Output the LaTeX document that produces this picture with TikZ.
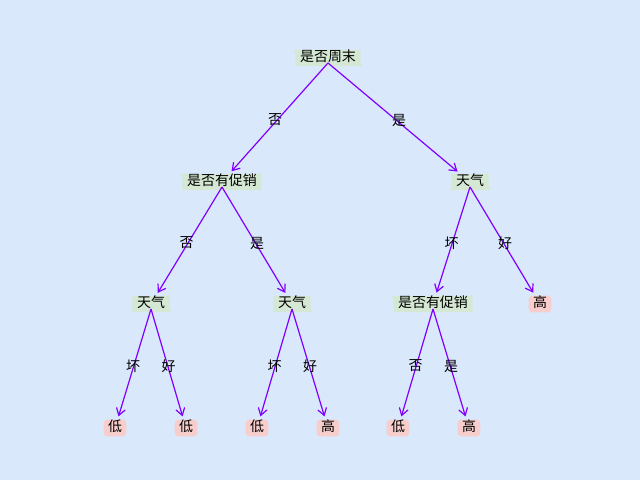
\documentclass[tikz,border=0pt]{standalone}
\usepackage{fontspec}
\setmainfont{Noto Sans CJK SC}
\usepackage{xcolor}
\usetikzlibrary{arrows.meta,calc,decorations.pathmorphing}
\definecolor{bgblue}{HTML}{DAE8FC}
\definecolor{decgreen}{HTML}{D5E8D4}
\definecolor{leafpink}{HTML}{F8CECC}
\definecolor{arrpurple}{HTML}{7F00FF}

\begin{document}
\begin{tikzpicture}[
x=1bp,y=-1bp,
font=\fontsize{14}{14}\selectfont,
decision/.style={
  fill=decgreen,
  inner xsep=5bp,
  inner ysep=3.3bp,
  text height=0.85em,
  text depth=0.15em,
  decorate,
  decoration={saw,segment length=2.5bp,amplitude=0.6bp}
},
leafbox/.style={
  fill=leafpink,
  rounded corners=4bp,
  inner xsep=4.5bp,
  inner ysep=3.5bp,
  text height=0.85em,
  text depth=0.15em
},
branch/.style={
  draw=arrpurple,
  line width=1.2bp,
  -{Straight Barb[length=7bp,width=9bp]},
  shorten >=3bp
},
lab/.style={inner sep=0pt}
]
\fill[bgblue] (0,0) rectangle (640,480);

% inner nodes
\node[decision] (weekend) at (328,58) {是否周末};
\node[decision] (promoL) at (222,182) {是否有促销};
\node[decision] (weatherR) at (470,182) {天气};
\node[decision] (weatherA) at (151,304) {天气};
\node[decision] (weatherB) at (292,304) {天气};
\node[decision] (promoR) at (433,304) {是否有促销};

% leaves
\node[leafbox] (highR) at (540,304) {高};
\node[leafbox] (leaf1) at (115,428) {低};
\node[leafbox] (leaf2) at (186,428) {低};
\node[leafbox] (leaf3) at (257,428) {低};
\node[leafbox] (leaf4) at (328,428) {高};
\node[leafbox] (leaf5) at (398,428) {低};
\node[leafbox] (leaf6) at (469,428) {高};

% branches
\draw[branch] ([yshift=-5bp]weekend.center) -- (promoL)
  node[lab] at ($(weekend)!.5!(promoL)$) {否};
\draw[branch] ([yshift=-5bp]weekend.center) -- (weatherR)
  node[lab] at ($(weekend)!.5!(weatherR)$) {是};
\draw[branch] ([yshift=-5bp]promoL.center) -- (weatherA)
  node[lab] at ($(promoL)!.5!(weatherA)$) {否};
\draw[branch] ([yshift=-5bp]promoL.center) -- (weatherB)
  node[lab] at ($(promoL)!.5!(weatherB)$) {是};
\draw[branch] ([yshift=-5bp]weatherR.center) -- (promoR)
  node[lab] at ($(weatherR)!.5!(promoR)$) {坏};
\draw[branch] ([yshift=-5bp]weatherR.center) -- (highR)
  node[lab] at ($(weatherR)!.5!(highR)$) {好};
\draw[branch] ([yshift=-5bp]weatherA.center) -- (leaf1)
  node[lab] at ($(weatherA)!.5!(leaf1)$) {坏};
\draw[branch] ([yshift=-5bp]weatherA.center) -- (leaf2)
  node[lab] at ($(weatherA)!.5!(leaf2)$) {好};
\draw[branch] ([yshift=-5bp]weatherB.center) -- (leaf3)
  node[lab] at ($(weatherB)!.5!(leaf3)$) {坏};
\draw[branch] ([yshift=-5bp]weatherB.center) -- (leaf4)
  node[lab] at ($(weatherB)!.5!(leaf4)$) {好};
\draw[branch] ([yshift=-5bp]promoR.center) -- (leaf5)
  node[lab] at ($(promoR)!.5!(leaf5)$) {否};
\draw[branch] ([yshift=-5bp]promoR.center) -- (leaf6)
  node[lab] at ($(promoR)!.5!(leaf6)$) {是};
\end{tikzpicture}
\end{document}
